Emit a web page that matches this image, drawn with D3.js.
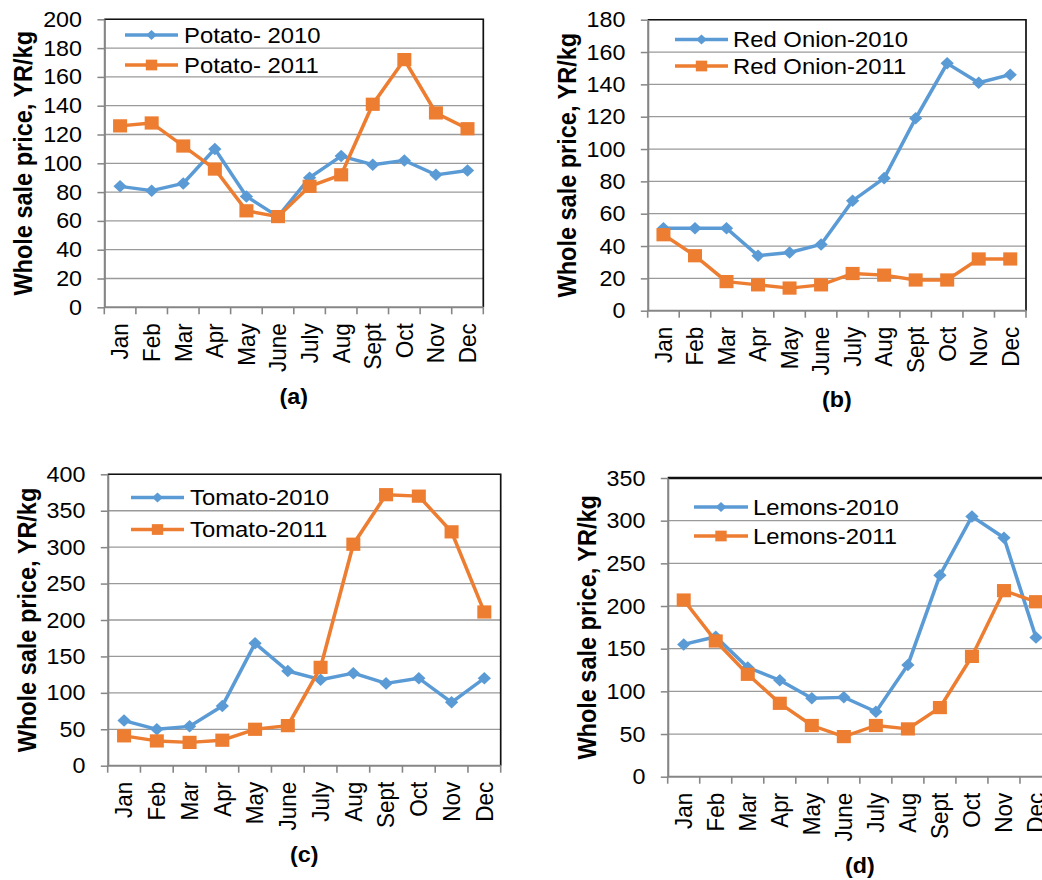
<!DOCTYPE html>
<html>
<head>
<meta charset="utf-8">
<script src="https://cdn.jsdelivr.net/npm/d3@7/dist/d3.min.js"></script>
<style>
  html, body { margin: 0; padding: 0; background: #fff; overflow: hidden; }
  svg { display: block; }
  text { font-family: "Liberation Sans", Arial, sans-serif; fill: #000; }
</style>
</head>
<body>
<svg id="chart" width="1042" height="880"></svg>
<script>
// ---- Data ----
const months = ["Jan","Feb","Mar","Apr","May","June","July","Aug","Sept","Oct","Nov","Dec"];

const potato2010 = [84, 81, 86, 110, 77, 63, 90, 105, 99, 102, 92, 95];
const potato2011 = [126, 128, 112, 96, 67, 63, 84, 92, 141, 172, 135, 124];

const redOnion2010 = [51, 51, 51, 34, 36, 41, 68, 82, 119, 153, 141, 146];
const redOnion2011 = [47, 34, 18, 16, 14, 16, 23, 22, 19, 19, 32, 32];

const tomato2010 = [62, 50, 54, 82, 168, 130, 118, 127, 113, 120, 87, 120];
const tomato2011 = [41, 34, 32, 35, 50, 55, 135, 304, 372, 370, 321, 211];

const lemons2010 = [155, 164, 128, 113, 92, 93, 76, 131, 236, 305, 280, 163];
const lemons2011 = [207, 159, 120, 86, 60, 47, 60, 56, 81, 141, 218, 205];

const yTicksA = [0,20,40,60,80,100,120,140,160,180,200];
const yTicksB = [0,20,40,60,80,100,120,140,160,180];
const yTicksC = [0,50,100,150,200,250,300,350,400];
const yTicksD = [0,50,100,150,200,250,300,350];

const yTitle = "Whole sale price, YR/kg";
const blue = "#5B9BD5", orange = "#ED7D31";

// The reference image is slightly stretched horizontally; emulate with a scale.
const SX = 1.06;
const X = v => v / SX;

const panels = [
  { box: [104.3, 19.3, 483.3, 307.3], ticks: yTicksA, s1: potato2010, s2: potato2011,
    names: ["Potato- 2010", "Potato- 2011"], caption: "(a)", titleX: 23, border: 1.6,
    leg: { x0: 125, x1: 178, tx: 184, y: [35, 65] } },
  { box: [647.7, 19.7, 1026, 310.7], ticks: yTicksB, s1: redOnion2010, s2: redOnion2011,
    names: ["Red Onion-2010", "Red Onion-2011"], caption: "(b)", titleX: 567, border: 1.6,
    leg: { x0: 675, x1: 728, tx: 733, y: [39.5, 66] } },
  { box: [107.7, 474.3, 500.7, 765.7], ticks: yTicksC, s1: tomato2010, s2: tomato2011,
    names: ["Tomato-2010", "Tomato-2011"], caption: "(c)", titleX: 27, border: 1.6,
    leg: { x0: 131, x1: 184, tx: 190, y: [497.5, 529.5] } },
  { box: [667.7, 478, 1052, 776.7], ticks: yTicksD, s1: lemons2010, s2: lemons2011,
    names: ["Lemons-2010", "Lemons-2011"], caption: "(d)", titleX: 587, border: 2.4,
    leg: { x0: 694, x1: 748, tx: 753, y: [507, 536] } }
];

const svg = d3.select("#chart");
const root = svg.append("g").attr("transform", `scale(${SX},1)`);
const diamond = d3.symbol().type(d3.symbolDiamond2).size(100);
const square = d3.symbol().type(d3.symbolSquare).size(175);
const diamondLeg = d3.symbol().type(d3.symbolDiamond2).size(65);
const squareLeg = d3.symbol().type(d3.symbolSquare).size(115);

panels.forEach(p => {
  const L = X(p.box[0]), T = p.box[1], R = X(p.box[2]), B = p.box[3];
  const g = root.append("g");
  const x = d3.scaleBand().domain(months).range([L, R]).padding(0);
  const y = d3.scaleLinear().domain([0, d3.max(p.ticks)]).range([B, T]);

  // gridlines
  g.append("g").selectAll("line").data(p.ticks.filter(t => t > 0)).join("line")
    .attr("x1", L).attr("x2", R).attr("y1", d => y(d)).attr("y2", d => y(d))
    .attr("stroke", "#9a9a9a").attr("stroke-width", 1.3);

  // top & right border
  g.append("path")
    .attr("d", `M${L},${T}H${R}V${B}`)
    .attr("fill", "none").attr("stroke", "#111").attr("stroke-width", p.border);

  // y axis
  const yAxis = d3.axisLeft(y).tickValues(p.ticks).tickSize(6.5).tickPadding(14.5).tickSizeOuter(0);
  const ya = g.append("g").attr("transform", `translate(${L},0)`).call(yAxis);
  ya.attr("font-size", null).attr("font-family", null);
  ya.select(".domain").attr("stroke", "#868686").attr("stroke-width", 2);
  ya.selectAll(".tick line").attr("stroke", "#868686").attr("stroke-width", 1.5);
  ya.selectAll(".tick text").attr("font-size", 22).attr("fill", "#000");

  // x axis: ticks at category boundaries
  const bounds = d3.range(13).map(i => L + i * x.bandwidth());
  g.append("line").attr("x1", L).attr("x2", R).attr("y1", B).attr("y2", B)
    .attr("stroke", "#868686").attr("stroke-width", 2);
  g.append("g").selectAll("line").data(bounds).join("line")
    .attr("x1", d => d).attr("x2", d => d).attr("y1", B).attr("y2", B + 7)
    .attr("stroke", "#868686").attr("stroke-width", 1.5);
  g.append("g").selectAll("text").data(months).join("text")
    .attr("transform", d => `translate(${x(d) + x.bandwidth() / 2},${B + 16}) rotate(-90)`)
    .attr("text-anchor", "end").attr("dy", "0.35em")
    .attr("font-size", 22.5).text(d => d);

  // y title
  g.append("text")
    .attr("transform", `translate(${X(p.titleX)},${(T + B) / 2}) rotate(-90)`)
    .attr("text-anchor", "middle").attr("dy", "0.36em")
    .attr("font-size", 23.5).attr("font-weight", "bold").text(yTitle);

  // caption
  g.append("text").attr("x", (L + R) / 2).attr("y", B + 89).attr("dy", "0.35em")
    .attr("text-anchor", "middle").attr("font-size", 22).attr("font-weight", "bold")
    .text(p.caption);

  const line = d3.line().x((d, i) => x(months[i]) + x.bandwidth() / 2).y(d => y(d));
  const series = [
    { v: p.s1, c: blue, sym: diamond, leg: diamondLeg },
    { v: p.s2, c: orange, sym: square, leg: squareLeg }
  ];
  series.forEach(s => {
    g.append("path").datum(s.v).attr("d", line).attr("fill", "none")
      .attr("stroke", s.c).attr("stroke-width", 3.4).attr("stroke-linejoin", "round");
    g.append("g").selectAll("path").data(s.v).join("path")
      .attr("transform", (d, i) => `translate(${x(months[i]) + x.bandwidth() / 2},${y(d)})`)
      .attr("d", s.sym).attr("fill", s.c);
  });

  // legend
  series.forEach((s, i) => {
    const ly = p.leg.y[i];
    g.append("line").attr("x1", X(p.leg.x0)).attr("x2", X(p.leg.x1)).attr("y1", ly).attr("y2", ly)
      .attr("stroke", s.c).attr("stroke-width", 3.4);
    g.append("path").attr("transform", `translate(${X((p.leg.x0 + p.leg.x1) / 2)},${ly})`)
      .attr("d", s.leg).attr("fill", s.c);
    g.append("text").attr("x", X(p.leg.tx)).attr("y", ly).attr("dy", "0.35em")
      .attr("font-size", 22.5).text(p.names[i]);
  });
});
</script>
</body>
</html>
